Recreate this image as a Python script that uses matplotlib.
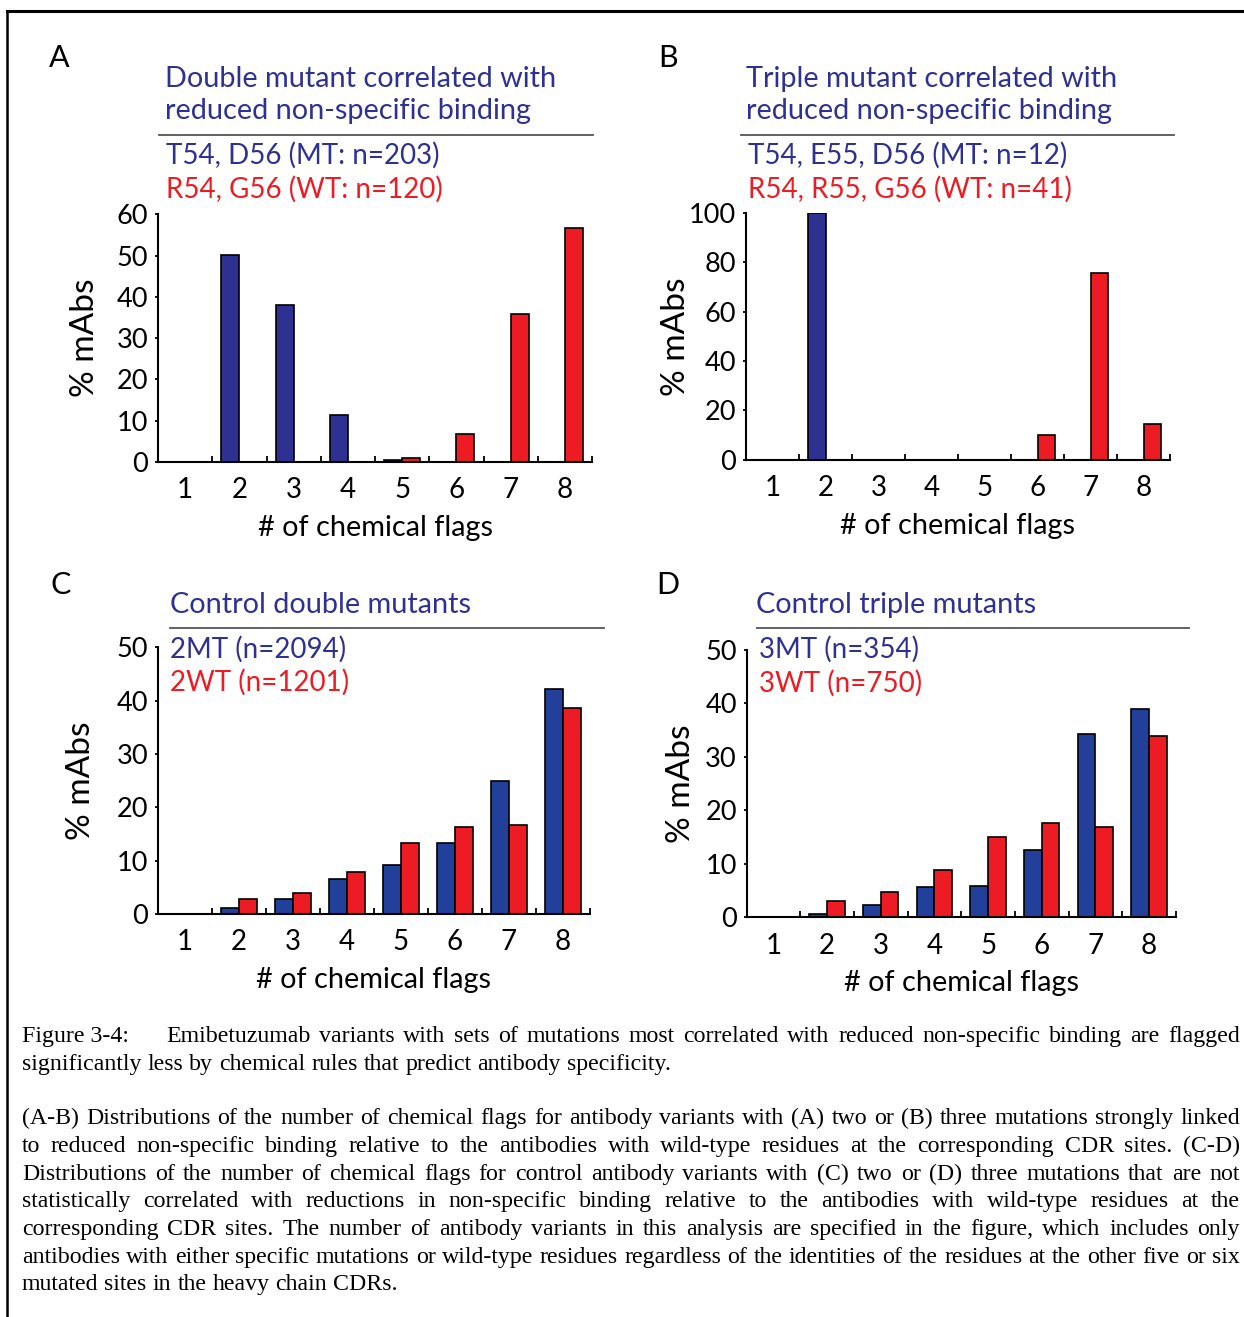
"""
Four-panel bar chart: distribution of chemical flags for emibetuzumab
variants (mutant vs wild-type residues), with a justified figure caption.
"""
import matplotlib
matplotlib.use("Agg")
import matplotlib.pyplot as plt
from matplotlib.lines import Line2D

W, H = 1244, 1317

flags = [1, 2, 3, 4, 5, 6, 7, 8]

# % mAbs per number of chemical flags
a_mt = [0, 50.2, 37.9, 11.3, 0.5, 0, 0, 0]
a_wt = [0, 0, 0, 0, 0.8, 6.7, 35.8, 56.7]
b_mt = [0, 100, 0, 0, 0, 0, 0, 0]
b_wt = [0, 0, 0, 0, 0, 9.8, 75.6, 14.6]
c_mt = [0, 1.2, 2.8, 6.5, 9.1, 13.4, 24.9, 42.1]
c_wt = [0, 2.9, 4.0, 7.8, 13.3, 16.4, 16.7, 38.7]
d_mt = [0, 0.6, 2.3, 5.7, 5.9, 12.5, 34.2, 38.9]
d_wt = [0, 3.1, 4.7, 8.8, 15.1, 17.6, 16.8, 34.0]

titles = {
    "A": ["Double mutant correlated with", "reduced non-specific binding"],
    "B": ["Triple mutant correlated with", "reduced non-specific binding"],
    "C": ["Control double mutants"],
    "D": ["Control triple mutants"],
}
series_labels = {
    "A": ("T54, D56 (MT: n=203)", "R54, G56 (WT: n=120)"),
    "B": ("T54, E55, D56 (MT: n=12)", "R54, R55, G56 (WT: n=41)"),
    "C": ("2MT (n=2094)", "2WT (n=1201)"),
    "D": ("3MT (n=354)", "3WT (n=750)"),
}

caption_head = "Figure 3-4:"
caption_lines = [
    ("Emibetuzumab variants with sets of mutations most correlated with reduced non-specific binding are flagged", True),
    ("significantly less by chemical rules that predict antibody specificity.", False),
    ("(A-B) Distributions of the number of chemical flags for antibody variants with (A) two or (B) three mutations strongly linked", True),
    ("to reduced non-specific binding relative to the antibodies with wild-type residues at the corresponding CDR sites. (C-D)", True),
    ("Distributions of the number of chemical flags for control antibody variants with (C) two or (D) three mutations that are not", True),
    ("statistically correlated with reductions in non-specific binding relative to the antibodies with wild-type residues at the", True),
    ("corresponding CDR sites. The number of antibody variants in this analysis are specified in the figure, which includes only", True),
    ("antibodies with either specific mutations or wild-type residues regardless of the identities of the residues at the other five or six", True),
    ("mutated sites in the heavy chain CDRs.", False),
]

BLUE_TOP = "#2E3192"
BLUE_CTRL = "#22409A"
RED = "#ED1C24"
SANS = ["Lato", "DejaVu Sans"]
SERIF = ["Liberation Serif", "DejaVu Serif"]


def fx(x):
    return x / W


def fy(y):
    return 1 - y / H


def add_axes_px(fig, x0, y0, x1, y1):
    return fig.add_axes([fx(x0), fy(y1), (x1 - x0) / W, (y1 - y0) / H])


def draw_panel(fig, box, mt, wt, ymax, ystep, blue, ylab_dx):
    x0, ytop, x1, ybot = box
    ax = add_axes_px(fig, x0, ytop, x1, ybot)
    bw = 0.33
    for k, v in zip(flags, mt):
        if v > 0:
            ax.bar(k - bw / 2, v, width=bw, color=blue, edgecolor="black", linewidth=1.2)
    for k, v in zip(flags, wt):
        if v > 0:
            ax.bar(k + bw / 2, v, width=bw, color=RED, edgecolor="black", linewidth=1.2)
    ax.set_xlim(0.5, 8.5)
    ax.set_ylim(0, ymax)
    ax.set_yticks(range(0, ymax + 1, ystep))
    ax.set_xticks(flags)
    ax.set_xticks([k + 0.5 for k in flags], minor=True)
    ax.tick_params(axis="x", which="major", length=0, pad=11, labelsize=20)
    ax.tick_params(axis="x", which="minor", direction="in", length=4, width=1.3)
    ax.tick_params(axis="y", direction="out", length=2, width=1.3, pad=5, labelsize=19.5)
    for lab in ax.get_xticklabels() + ax.get_yticklabels():
        lab.set_family(SANS)
    for s in ("top", "right"):
        ax.spines[s].set_visible(False)
    for s in ("left", "bottom"):
        ax.spines[s].set_linewidth(1.5)
    ax.set_xlabel("# of chemical flags", fontsize=20.8, family=SANS)
    ax.xaxis.set_label_coords(0.5, -66 / (ybot - ytop))
    ax.xaxis.label.set_va("center")
    ax.set_ylabel("% mAbs", fontsize=24, family=SANS)
    ax.yaxis.set_label_coords(-ylab_dx / (x1 - x0), 0.5)
    ax.yaxis.label.set_va("center")
    return ax


def header(fig, letter, lx, ly, tx, title_ys, sep, sy, lab_x):
    fig.text(fx(lx), fy(ly), letter, fontsize=22, family=SANS, ha="center", va="center")
    for line, y in zip(titles[letter], title_ys):
        fig.text(fx(tx), fy(y), line, fontsize=20.8, family=SANS, color=BLUE_TOP,
                 ha="left", va="center")
    fig.add_artist(Line2D([fx(sep[0]), fx(sep[1])], [fy(sep[2]), fy(sep[2])],
                          color="#555555", linewidth=1.3))
    mt_lab, wt_lab = series_labels[letter]
    fig.text(fx(lab_x), fy(sy[0]), mt_lab, fontsize=20, family=SANS, color=BLUE_TOP,
             ha="left", va="center")
    fig.text(fx(lab_x), fy(sy[1]), wt_lab, fontsize=20, family=SANS, color=RED,
             ha="left", va="center")


def justify_line(fig, renderer, text, x0, x1, base_y, justify, size):
    words = text.split(" ")
    items = [fig.text(0, fy(base_y), w, fontsize=size, family=SERIF, va="baseline")
             for w in words]
    widths = [t.get_window_extent(renderer).width for t in items]
    space = fig.text(0, 0, " ", fontsize=size, family=SERIF).get_window_extent(renderer).width
    if justify and len(words) > 1:
        gap = max((x1 - x0 - sum(widths)) / (len(words) - 1), 0.3 * space)
    else:
        gap = space
    x = x0
    for t, w in zip(items, widths):
        t.set_x(fx(x))
        x += w + gap


def main():
    fig = plt.figure(figsize=(W / 100, H / 100), dpi=100)

    # outer frame (top and left edges)
    fig.add_artist(Line2D([fx(7), fx(W)], [fy(11), fy(11)], color="black", linewidth=2.2))
    fig.add_artist(Line2D([fx(7.5), fx(7.5)], [fy(11), fy(H)], color="black", linewidth=1.8))

    draw_panel(fig, (158, 214.3, 592, 461.8), a_mt, a_wt, 60, 10, BLUE_TOP, 73)
    draw_panel(fig, (746, 213.2, 1170, 459.6), b_mt, b_wt, 100, 20, BLUE_TOP, 70)
    draw_panel(fig, (158, 647.3, 590, 914), c_mt, c_wt, 50, 10, BLUE_CTRL, 77)
    draw_panel(fig, (746.5, 650, 1176, 917.3), d_mt, d_wt, 50, 10, BLUE_CTRL, 66)

    header(fig, "A", 59, 58, 165, (79, 111), (159, 593, 134.6), (155, 189), 166)
    header(fig, "B", 668, 58, 746.5, (79, 111), (741, 1174, 134.6), (155, 189), 748)
    header(fig, "C", 61, 585, 170, (605,), (170, 604, 628.3), (649, 682), 170)
    header(fig, "D", 668, 585, 756.5, (605,), (756.5, 1189, 628), (649, 683), 759)

    # caption, justified word by word
    renderer = fig.canvas.get_renderer()
    size = 17.2
    fig.text(fx(22), fy(1042), caption_head, fontsize=size, family=SERIF, va="baseline")
    bases = [1042, 1070, 1124, 1152, 1180, 1207, 1235, 1263, 1290]
    for (line, just), y in zip(caption_lines, bases):
        x0 = 166 if y == 1042 else 22
        justify_line(fig, renderer, line, x0, 1240, y, just, size)

    fig.savefig("out.png", dpi=100)
    plt.close(fig)


if __name__ == "__main__":
    main()
